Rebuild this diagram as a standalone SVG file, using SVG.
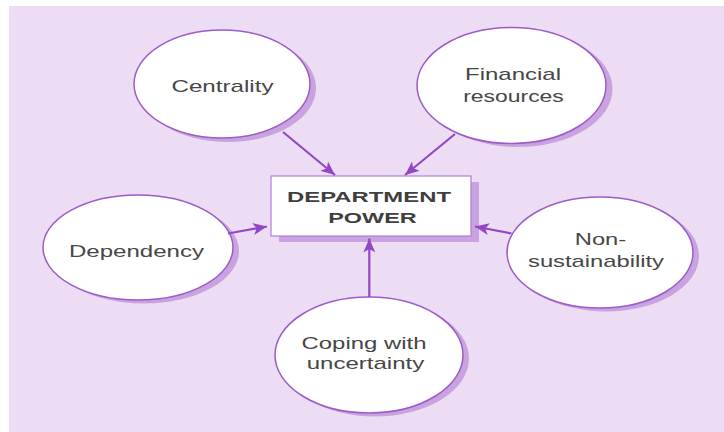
<svg xmlns="http://www.w3.org/2000/svg" width="724" height="432" viewBox="0 0 724 432">
  <style>
    .bg { fill: #ecddf4; }
    .shadow { fill: #c9a3df; }
    .node { fill: #ffffff; stroke: #9d5ac9; stroke-width: 1.5; }
    .box { fill: #ffffff; stroke: #b07fd2; stroke-width: 1.2; }
    .label { font-family: "Liberation Sans", Arial, sans-serif; font-size: 17px; fill: #464646; text-anchor: middle; }
    .title { font-family: "Liberation Sans", Arial, sans-serif; font-size: 15.5px; font-weight: bold; fill: #3f3f3f; text-anchor: middle; }
    .edge { stroke: #9347c4; stroke-width: 2.2; fill: none; marker-end: url(#head); }
  </style>
  <defs>
    <marker id="head" markerUnits="userSpaceOnUse" markerWidth="16" markerHeight="12" refX="14" refY="6" orient="auto">
      <path d="M0,0 L14,6 L0,12 L3.5,6 Z" fill="#9347c4"/>
    </marker>
  </defs>

  <rect class="bg" x="9" y="6" width="715" height="426"/>

  <g id="centrality">
    <ellipse class="shadow" cx="228" cy="88" rx="88" ry="54"/>
    <ellipse class="node" cx="222" cy="84" rx="88" ry="54"/>
    <text class="label" x="222.5" y="91.5" textLength="102" lengthAdjust="spacingAndGlyphs">Centrality</text>
  </g>

  <g id="financial-resources">
    <ellipse class="shadow" cx="518" cy="89" rx="94.5" ry="58"/>
    <ellipse class="node" cx="511.5" cy="85.5" rx="94.5" ry="58"/>
    <text class="label" x="513" y="80" textLength="96" lengthAdjust="spacingAndGlyphs">Financial</text>
    <text class="label" x="513.5" y="102" textLength="100.5" lengthAdjust="spacingAndGlyphs">resources</text>
  </g>

  <g id="dependency">
    <ellipse class="shadow" cx="144" cy="251" rx="95" ry="52.5"/>
    <ellipse class="node" cx="138" cy="247.5" rx="95" ry="52.5"/>
    <text class="label" x="136.5" y="256.5" textLength="135" lengthAdjust="spacingAndGlyphs">Dependency</text>
  </g>

  <g id="non-sustainability">
    <ellipse class="shadow" cx="606" cy="256" rx="93" ry="55.5"/>
    <ellipse class="node" cx="600" cy="252.5" rx="93" ry="55.5"/>
    <text class="label" x="600.5" y="245" textLength="51.5" lengthAdjust="spacingAndGlyphs">Non-</text>
    <text class="label" x="596" y="267" textLength="136" lengthAdjust="spacingAndGlyphs">sustainability</text>
  </g>

  <g id="coping-with-uncertainty">
    <ellipse class="shadow" cx="375" cy="358.5" rx="94" ry="58"/>
    <ellipse class="node" cx="369" cy="355" rx="94" ry="58"/>
    <text class="label" x="364" y="349" textLength="125" lengthAdjust="spacingAndGlyphs">Coping with</text>
    <text class="label" x="365.5" y="369" textLength="117.5" lengthAdjust="spacingAndGlyphs">uncertainty</text>
  </g>

  <g id="department-power">
    <rect class="shadow" x="279" y="182" width="200" height="60"/>
    <rect class="box" x="271" y="176" width="200" height="60"/>
    <text class="title" x="369" y="201.7" textLength="164" lengthAdjust="spacingAndGlyphs">DEPARTMENT</text>
    <text class="title" x="372.5" y="223.3" textLength="88.5" lengthAdjust="spacingAndGlyphs">POWER</text>
  </g>

  <g id="connectors">
    <line class="edge" x1="283" y1="132" x2="335" y2="175"/>
    <line class="edge" x1="455" y1="134" x2="405" y2="175"/>
    <line class="edge" x1="228" y1="233.5" x2="267" y2="226.5"/>
    <line class="edge" x1="511.5" y1="233.5" x2="475" y2="226.5"/>
    <line class="edge" x1="369.3" y1="297" x2="369.3" y2="238.5"/>
  </g>
</svg>
